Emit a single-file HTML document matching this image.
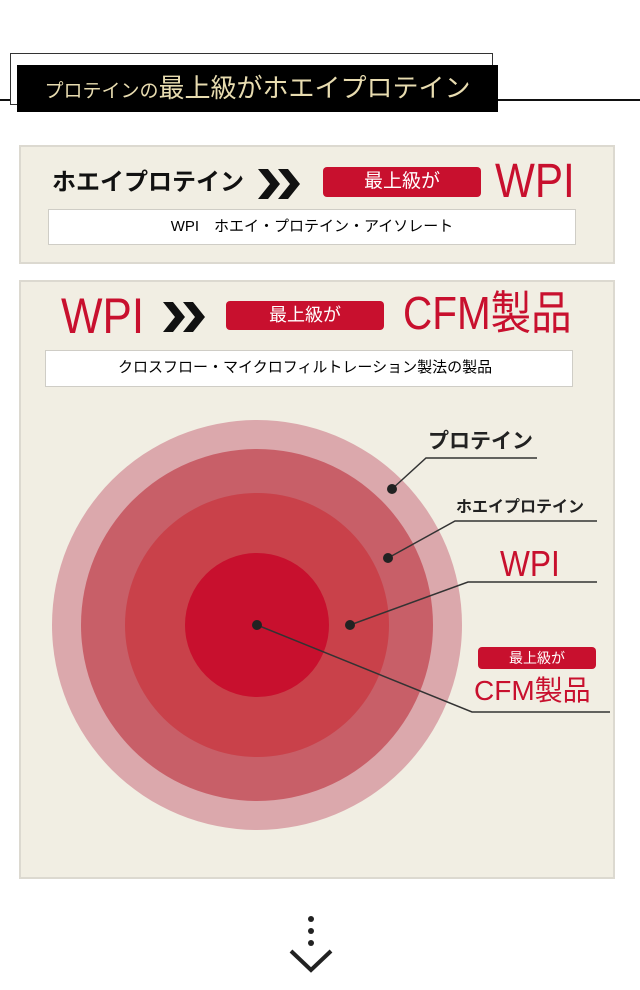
<!DOCTYPE html>
<html><head><meta charset="utf-8"><style>
body{margin:0;width:640px;height:990px;background:#fff;position:relative;overflow:hidden;font-family:"Liberation Sans","Noto Sans CJK JP",sans-serif}
.a{position:absolute}
.panel{position:absolute;background:#f1eee3;border:2px solid #dcd9d0;box-sizing:border-box}
.wb{position:absolute;background:#fff;border:1px solid #cfcdc6;box-sizing:border-box;font-size:15px;line-height:34px}
.red{color:#c8102e}
.cd{transform-origin:0 50%;transform:scaleX(0.88)}
.pill{position:absolute;background:#c8102e;color:#fff;border-radius:4px;text-align:center}
</style></head><body>
<div class="a" style="left:0;top:99px;width:640px;height:2px;background:#111"></div>
<div class="a" style="left:10px;top:53px;width:483px;height:52px;border:1px solid #333;background:#fff;box-sizing:border-box"></div>
<div class="a" style="left:17px;top:65px;width:481px;height:47px;background:#000;color:#e8dcb0;font-size:26px;line-height:47px;text-align:center;white-space:nowrap"><span style="font-size:19px">プロテインの</span>最上級がホエイプロテイン</div>

<div class="panel" style="left:19px;top:145px;width:596px;height:119px"></div>
<div class="a" style="left:52px;top:166px;font-size:24px;font-weight:bold;line-height:34px;color:#111">ホエイプロテイン</div>
<svg class="a" style="left:258px;top:169px" width="44" height="30"><path d="M0 0h10l12 15-12 15H0l12-15z M20 0h10l12 15-12 15H20l12-15z" fill="#111"/></svg>
<div class="pill" style="left:323px;top:167px;width:158px;height:30px;line-height:30px;font-size:19px">最上級が</div>
<div class="a red cd" style="left:495px;top:156px;font-size:48px;line-height:52px">WPI</div>
<div class="wb" style="left:48px;top:209px;width:528px;height:36px;text-align:center">WPI　ホエイ・プロテイン・アイソレート</div>

<div class="panel" style="left:19px;top:280px;width:596px;height:599px"></div>
<div class="a red cd" style="left:61px;top:289px;font-size:50px;line-height:54px">WPI</div>
<svg class="a" style="left:163px;top:302px" width="44" height="30"><path d="M0 0h10l12 15-12 15H0l12-15z M20 0h10l12 15-12 15H20l12-15z" fill="#111"/></svg>
<div class="pill" style="left:226px;top:301px;width:158px;height:29px;line-height:29px;font-size:18px">最上級が</div>
<div class="a red cd" style="left:403px;top:287px;font-size:46px;line-height:52px;white-space:nowrap">CFM製品</div>
<div class="wb" style="left:45px;top:350px;width:528px;height:37px;padding-left:72px">クロスフロー・マイクロフィルトレーション製法の製品</div>

<svg class="a" style="left:0;top:0" width="640" height="990">
<circle cx="257" cy="625" r="205" fill="#dba8ac"/>
<circle cx="257" cy="625" r="176" fill="#c85f68"/>
<circle cx="257" cy="625" r="132" fill="#c9414a"/>
<circle cx="257" cy="625" r="72" fill="#c8102e"/>
<g stroke="#333" stroke-width="1.5" fill="none">
<path d="M392 489L426 458H537"/>
<path d="M388 558L455 521H597"/>
<path d="M350 625L468 582H597"/>
<path d="M257 625L472 712H610"/>
</g>
<g fill="#222"><circle cx="392" cy="489" r="5"/><circle cx="388" cy="558" r="5"/><circle cx="350" cy="625" r="5"/><circle cx="257" cy="625" r="5"/></g>
<g fill="#222"><circle cx="311" cy="919" r="3"/><circle cx="311" cy="931" r="3"/><circle cx="311" cy="943" r="3"/></g>
<path d="M291 951L311 970L331 951" stroke="#222" stroke-width="4" fill="none"/>
</svg>
<div class="a" style="left:428px;top:428px;font-size:21px;font-weight:bold;color:#222;line-height:28px">プロテイン</div>
<div class="a" style="left:456px;top:497px;font-size:16px;font-weight:bold;color:#222;line-height:22px">ホエイプロテイン</div>
<div class="a red cd" style="left:500px;top:544px;font-size:36px;line-height:40px">WPI</div>
<div class="pill" style="left:478px;top:647px;width:118px;height:22px;line-height:22px;font-size:14px">最上級が</div>
<div class="a red" style="left:474px;top:674px;font-size:28px;line-height:34px">CFM製品</div>
</body></html>
